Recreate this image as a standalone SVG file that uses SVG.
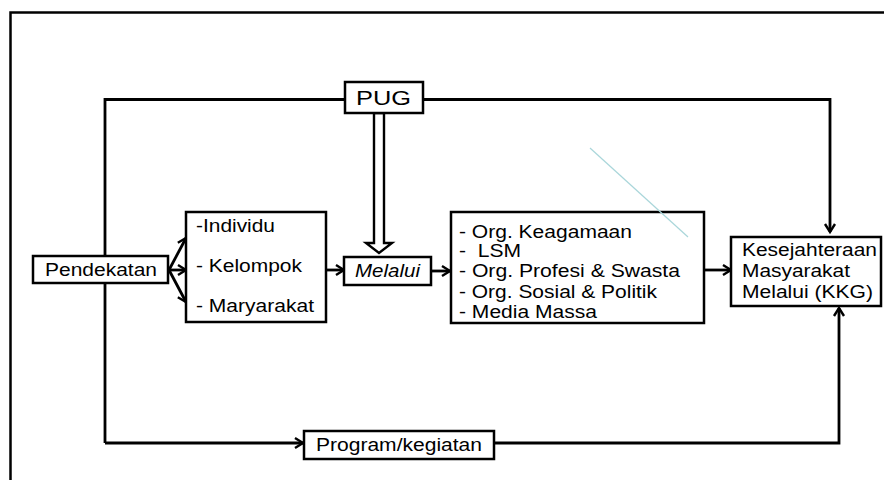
<svg xmlns="http://www.w3.org/2000/svg" width="884" height="480" viewBox="0 0 884 480">
<defs>
<marker id="ah" markerUnits="userSpaceOnUse" markerWidth="14" markerHeight="14" viewBox="-1 -7 12 14" refX="9" refY="0" orient="auto">
<path d="M1,-5 L9,0 L1,5" fill="none" stroke="#000" stroke-width="2.4" stroke-linejoin="miter"/>
</marker>
</defs>
<style>
.box{fill:#fff;stroke:#000;stroke-width:2.5}
.ln{fill:none;stroke:#000;stroke-width:2.8}
.t{font-family:"Liberation Sans",Arial,sans-serif;font-size:17.5px;fill:#000}
</style>
<rect x="10.5" y="12.5" width="900" height="500" fill="#fff" stroke="#000" stroke-width="2.5"/>
<g id="connectors">
<polyline class="ln" points="105,443 105,99.5 360,99.5"/>
<polyline class="ln" points="410,99.5 830,99.5 830,232" marker-end="url(#ah)"/>
<line class="ln" x1="105" y1="443" x2="303" y2="443" marker-end="url(#ah)"/>
<polyline class="ln" points="480,443 839,443 839,308" marker-end="url(#ah)"/>
<line class="ln" x1="169" y1="270" x2="186" y2="238" marker-end="url(#ah)"/>
<line class="ln" x1="169" y1="270" x2="186" y2="270" marker-end="url(#ah)"/>
<line class="ln" x1="169" y1="270" x2="186" y2="302" marker-end="url(#ah)"/>
<line class="ln" x1="326" y1="270" x2="344" y2="270" marker-end="url(#ah)"/>
<line class="ln" x1="431" y1="271" x2="450" y2="271" marker-end="url(#ah)"/>
<line class="ln" x1="704" y1="270" x2="731" y2="270" marker-end="url(#ah)"/>
<polygon points="374,113 384,113 384,243 392,243 379,253 366,243 374,243" fill="#fff" stroke="#000" stroke-width="2.4" stroke-linejoin="miter"/>
</g>
<g id="pug">
<rect class="box" x="345" y="82" width="78" height="31"/>
<text class="t" x="356" y="105" style="font-size:21px" textLength="55" lengthAdjust="spacingAndGlyphs">PUG</text>
</g>
<g id="pendekatan">
<rect class="box" x="33" y="256" width="135" height="27"/>
<text class="t" x="45" y="276" textLength="112" lengthAdjust="spacingAndGlyphs">Pendekatan</text>
</g>
<g id="sasaran">
<rect class="box" x="186" y="212" width="140" height="110"/>
<text class="t" x="196" y="232" textLength="79" lengthAdjust="spacingAndGlyphs">-Individu</text>
<text class="t" x="196" y="272" textLength="106" lengthAdjust="spacingAndGlyphs">- Kelompok</text>
<text class="t" x="196" y="312" textLength="118" lengthAdjust="spacingAndGlyphs">- Maryarakat</text>
</g>
<g id="melalui">
<rect class="box" x="344" y="257" width="87" height="28"/>
<text class="t" x="355" y="277" font-style="italic" textLength="65" lengthAdjust="spacingAndGlyphs">Melalui</text>
</g>
<g id="organisasi">
<rect class="box" x="451" y="212" width="253" height="111"/>
<text class="t" x="459" y="238" textLength="173" lengthAdjust="spacingAndGlyphs">- Org. Keagamaan</text>
<text class="t" x="459" y="257" xml:space="preserve" textLength="62" lengthAdjust="spacingAndGlyphs">-  LSM</text>
<text class="t" x="459" y="277" textLength="221" lengthAdjust="spacingAndGlyphs">- Org. Profesi &amp; Swasta</text>
<text class="t" x="459" y="298" textLength="198" lengthAdjust="spacingAndGlyphs">- Org. Sosial &amp; Politik</text>
<text class="t" x="459" y="318" textLength="138" lengthAdjust="spacingAndGlyphs">- Media Massa</text>
</g>
<g id="kesejahteraan">
<rect class="box" x="731" y="237" width="150" height="69"/>
<text class="t" x="742" y="256" textLength="135" lengthAdjust="spacingAndGlyphs">Kesejahteraan</text>
<text class="t" x="742" y="277" textLength="108" lengthAdjust="spacingAndGlyphs">Masyarakat</text>
<text class="t" x="742" y="298" textLength="131" lengthAdjust="spacingAndGlyphs">Melalui (KKG)</text>
</g>
<g id="program">
<rect class="box" x="304" y="431" width="190" height="28"/>
<text class="t" x="316" y="451" textLength="166" lengthAdjust="spacingAndGlyphs">Program/kegiatan</text>
</g>
<line x1="590" y1="148" x2="688" y2="237" stroke="#a9d6da" stroke-width="1.2"/>
</svg>
